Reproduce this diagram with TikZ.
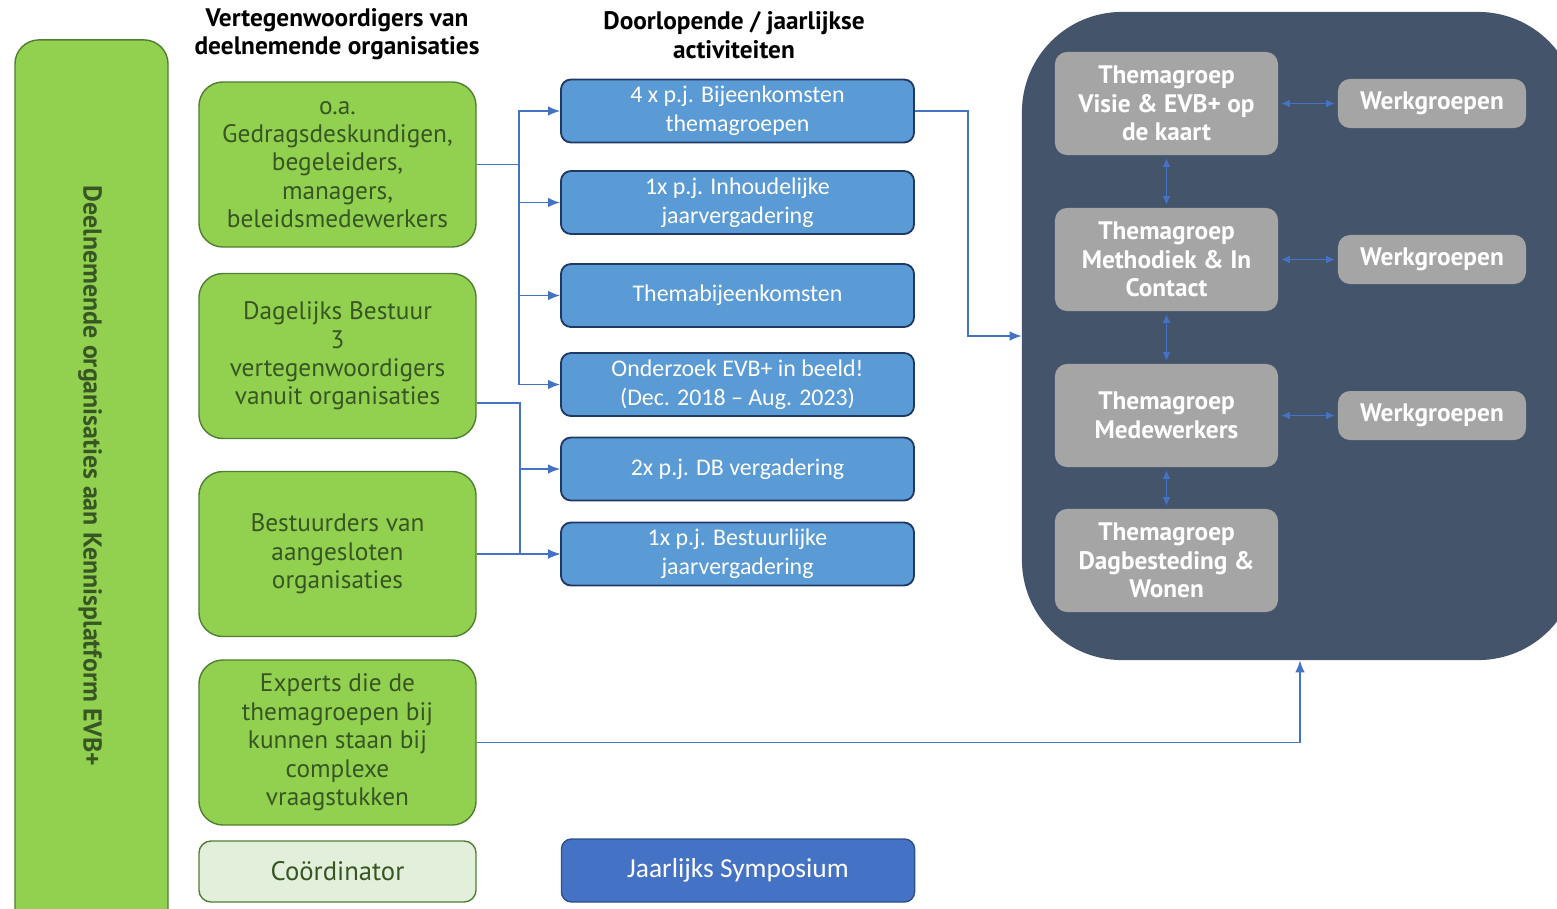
\documentclass[tikz,border=0pt]{standalone}
\usepackage{fontspec}
\setmainfont{PT Sans}
\newfontfamily\calibri[Ligatures=TeX]{Carlito}
\usetikzlibrary{arrows.meta}
\definecolor{vert}{HTML}{92D050}
\definecolor{vertfonce}{HTML}{507E32}
\definecolor{textevert}{HTML}{375623}
\definecolor{vertclair}{HTML}{E2EFDA}
\definecolor{bleu}{HTML}{5B9BD5}
\definecolor{bleufonce}{HTML}{203864}
\definecolor{bleulien}{HTML}{4472C4}
\definecolor{ardoise}{HTML}{44546A}
\definecolor{gris}{HTML}{A5A5A5}

\begin{document}
\begin{tikzpicture}[x=0.025cm,y=-0.025cm]

\tikzset{groen/.style={draw=vertfonce,line width=1pt,fill=vert,rounded corners=0.6cm,text=textevert,align=center,inner sep=0pt,minimum width=6.925cm,minimum height=4.125cm,font=\fontsize{18}{20.2}\selectfont}, %vakken links
	blauw/.style={draw=bleufonce,line width=1.3pt,fill=bleu,rounded corners=0.25cm,text=white,align=center,inner sep=0pt,minimum width=8.825cm,minimum height=1.575cm,font=\calibri\fontsize{17}{20.6}\selectfont}, %activiteiten
	thema/.style={fill=gris,rounded corners=0.3cm,text=white,align=center,inner sep=0pt,minimum width=5.575cm,minimum height=2.575cm,font=\bfseries\fontsize{18}{20.2}\selectfont},
	werk/.style={thema,minimum width=4.7cm,minimum height=1.225cm},
	kop/.style={align=center,font=\bfseries\fontsize{18}{20.2}\selectfont},
	lien/.style={bleulien,line width=1pt,-{Latex[length=0.3cm,width=0.24cm]}},
	lien2/.style={bleulien,line width=1pt,{Latex[length=0.22cm,width=0.2cm]}-{Latex[length=0.22cm,width=0.2cm]},shorten <=2pt,shorten >=2pt}}

\useasboundingbox (0,0) rectangle (1557,908);
\clip (0,0) rectangle (1557,908);

%--------------------kolom links---------------------
\node[groen,minimum width=3.825cm,minimum height=22.5cm] (deeln) at (91.5,490) {};
\node[rotate=-90,text=textevert,font=\bfseries\fontsize{18.4}{20}\selectfont] at (90,476) {Deelnemende organisaties aan Kennisplatform EVB+};

%koppen
\node[kop] at (337,34) {Vertegenwoordigers van\\deelnemende organisaties};
\node[kop] at (734,35) {Doorlopende / jaarlijkse\\activiteiten};

%vertegenwoordigers
\node[groen] (g1) at (337.5,164.5) {o.a.\\Gedragsdeskundigen,\\begeleiders,\\managers,\\beleidsmedewerkers};
\node[groen] (g2) at (337.5,356) {Dagelijks Bestuur\\3\\vertegenwoordigers\\vanuit organisaties};
\node[groen] (g3) at (337.5,554) {Bestuurders van\\aangesloten\\organisaties};
\node[groen] (g4) at (337.5,742.5) {Experts die de\\themagroepen bij\\kunnen staan bij\\complexe\\vraagstukken};
\node[groen,fill=vertclair,rounded corners=0.3cm,minimum height=1.525cm,font=\fontsize{19}{20}\selectfont] (coord) at (337.5,871.5) {Coördinator};

%--------------------activiteiten---------------------
\node[blauw] (b1) at (737.5,111) {4 x p.j. Bijeenkomsten\\themagroepen};
\node[blauw] (b2) at (737.5,202.5) {1x p.j. Inhoudelijke\\jaarvergadering};
\node[blauw] (b3) at (737.5,295.5) {Themabijeenkomsten};
\node[blauw] (b4) at (737.5,384.5) {Onderzoek EVB+ in beeld!\\(Dec. 2018 – Aug. 2023)};
\node[blauw] (b5) at (737.5,469) {2x p.j. DB vergadering};
\node[blauw] (b6) at (737.5,554) {1x p.j. Bestuurlijke\\jaarvergadering};
\node[blauw,fill=bleulien,draw=bleulien!70!black,line width=1pt,font=\calibri\fontsize{19.5}{22}\selectfont] (symp) at (738,870.5) {Jaarlijks Symposium};

%--------------------themagroepen---------------------
\node[fill=ardoise,rounded corners=2.5cm,minimum width=13.9cm,minimum height=16.2cm,inner sep=0pt] (panel) at (1300,336) {};

\node[thema] (t1) at (1166.5,103.5) {Themagroep\\Visie \& EVB+ op\\de kaart};
\node[thema] (t2) at (1166.5,259.5) {Themagroep\\Methodiek \& In\\Contact};
\node[thema] (t3) at (1166.5,415.5) {Themagroep\\Medewerkers};
\node[thema] (t4) at (1166.5,560.5) {Themagroep\\Dagbesteding \&\\Wonen};

\node[werk] (w1) at (1432,103.5) {Werkgroepen};
\node[werk] (w2) at (1432,259.5) {Werkgroepen};
\node[werk] (w3) at (1432,415.5) {Werkgroepen};

\foreach \i in {1,2,3} \draw[lien2] (t\i.east) -- (w\i.west);
\draw[lien2] (t1.south) -- (t2.north);
\draw[lien2] (t2.south) -- (t3.north);
\draw[lien2] (t3.south) -- (t4.north);

%--------------------verbindingen---------------------
\coordinate (bus1) at (519,0);
\coordinate (bus2) at (520,0);
\coordinate (bus3) at (968,0);

\foreach \b in {b1,b2,b3,b4}
	\draw[lien] (g1.east) -| (bus1 |- \b.west) -- (\b.west);
\foreach \b in {b5,b6}
	\draw[lien] ([yshift=-1.175cm]g2.east) -| (bus2 |- \b.west) -- (\b.west);
\draw[lien] (g3.east) -- (b6.west);

\draw[lien] (b1.east) -| (bus3 |- panel.west) -- (panel.west);
\draw[lien] (g4.east) -| (panel.south);

\end{tikzpicture}
\end{document}
